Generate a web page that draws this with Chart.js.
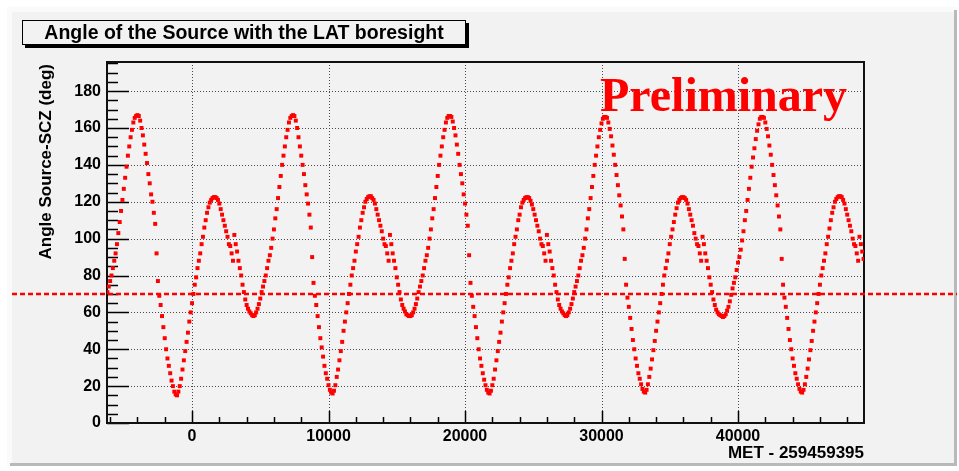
<!DOCTYPE html>
<html>
<head>
<meta charset="utf-8">
<title>Angle of the Source with the LAT boresight</title>
<script src="https://cdn.jsdelivr.net/npm/chart.js@4.4.1/dist/chart.umd.min.js"></script>
<style>
  html, body { margin: 0; padding: 0; background: #fff; overflow: hidden; }
  canvas { display: block; }
</style>
</head>
<body>
<canvas id="angleChart" width="959" height="471"></canvas>
<script>
// MET offsets: one sample every 100 s from metStart
const metStart = -6200;
const metStep = 100;

// Angle Source-SCZ (deg), split at each big peak of the rocking pattern
const orbitLead = [71, 74, 77, 80, 84, 88, 92, 97, 103, 109, 115, 121, 127, 133, 139, 145, 150, 155, 159, 163, 165.5, 166.5];

const orbitA = [
  167, 166.5, 164, 160, 156, 151, 146, 141, 135, 130,
  124, 120, 114, 108, 92, 77, 69, 64, 58, 52,
  46, 40, 35, 31, 27, 23, 20, 17, 15.5, 15,
  17, 20, 24, 29, 34, 39, 44, 49, 55, 60,
  65, 70, 75, 79, 84, 88, 92, 97, 101, 106,
  110, 114, 117, 119.5, 121, 122, 122.5, 122.5, 122, 121,
  119, 116, 113, 110, 107, 104, 101, 97, 96, 92,
  88, 102, 97, 93, 88, 84, 80, 75, 71, 67,
  64, 62, 60.5, 59.5, 58.5, 58, 58.5, 60, 62, 64.5,
  67.5, 71, 74, 77, 80, 84, 88, 91, 95, 100,
  105, 111, 116, 122, 128, 134, 140, 145, 150, 155,
  159, 163, 165.5, 166.5
];

const orbitB = [
  167, 166.5, 164, 160, 155, 150, 145, 140, 135, 129,
  124, 119, 113, 106, 90, 76, 69, 64, 58, 52,
  46, 41, 36, 31, 27, 24, 20.5, 18, 16.5, 16,
  17.5, 20.5, 25, 29, 34, 39, 44, 50, 55, 60,
  65, 70, 75, 80, 84, 88, 93, 97, 101, 106,
  110, 114, 117, 120, 121.5, 122.5, 123, 123, 122, 121,
  119, 116, 113, 110, 107, 104, 100, 97, 96, 92,
  88, 102, 97, 92, 88, 84, 79, 75, 71, 67,
  64, 62, 60.5, 59, 58.5, 58, 58, 58.5, 60, 62,
  64.5, 67.5, 71, 74, 77, 80, 84, 88, 91, 95,
  100, 105, 111, 116, 122, 128, 134, 140, 145, 150,
  155, 159, 163, 165.5, 166.5
];

const orbitC = [
  166.5, 166, 163.5, 160, 156, 151, 146, 140, 135, 130,
  124, 119, 113, 107, 91, 76, 69, 63, 58, 52,
  46, 40, 35, 31, 27, 23.5, 20.5, 18, 16.5, 16,
  17.5, 20.5, 24, 29, 34, 39, 44, 49, 55, 60,
  65, 70, 75, 79, 84, 88, 92, 97, 101, 105,
  110, 113, 117, 119.5, 121, 122, 122.5, 122.5, 122, 120.5,
  118.5, 116, 113, 110, 107, 104, 100, 97, 96, 92,
  88, 102, 97, 93, 88, 84, 80, 75, 71, 67,
  64, 62, 60.5, 59.5, 58.5, 58, 58.5, 60, 62, 64.5,
  67.5, 71, 74, 77, 80, 84, 88, 91, 95, 100,
  105, 111, 116, 122, 128, 134, 140, 145, 150, 155,
  159, 162.5, 165, 166
];

const orbitD = [
  166, 165.5, 163, 159.5, 155.5, 150.5, 145.5, 140, 134.5, 129,
  123.5, 118, 112, 105, 89, 75, 68, 63, 57, 51,
  45, 40, 35, 31, 27, 24, 21, 18.5, 17, 16.5,
  18, 21, 25, 29.5, 34.5, 39.5, 44.5, 50, 55, 60,
  65, 70, 75, 80, 84, 88, 92, 97, 101, 105,
  109, 113, 116.5, 119.5, 121, 122, 122.5, 122.5, 122, 121,
  119, 116, 113, 110, 107, 103, 100, 97, 96, 92,
  88, 101, 97, 92, 88, 84, 79, 75, 71, 67,
  64, 61.5, 60, 59, 58.5, 58, 57.5, 58, 59, 61,
  63, 66, 69.5, 73, 76, 79, 83, 87, 90, 94,
  99, 104, 110, 115, 121, 127, 133, 139, 144, 149,
  154, 158.5, 162, 165, 166
];

const orbitE = [
  166, 165.5, 163, 159.5, 155.5, 150.5, 145.5, 140, 134.5, 129,
  123.5, 118, 112, 105, 89, 75, 68, 63, 57, 51,
  45, 40, 35, 31, 27, 24, 21, 18.5, 17, 16.5,
  18, 21, 25, 29.5, 34.5, 39.5, 44.5, 50, 55, 60,
  65, 70, 75, 80, 84, 88, 92, 97, 101, 105.5,
  110, 114, 117, 120, 121.5, 122.5, 123, 123, 122.5, 121,
  119, 116, 113, 110, 107, 104, 100, 97, 96, 92,
  88, 101, 97, 93, 89
];

const xTicks = [0, 10000, 20000, 30000, 40000];
const yTicks = [0, 20, 40, 60, 80, 100, 120, 140, 160, 180];
const xMinorStep = 2000;
const yMinorStep = 5;
const cutAngle = 70;

const chartTitle = 'Angle of the Source with the LAT boresight';
const xTitle = 'MET - 259459395';
const yTitle = 'Angle Source-SCZ (deg)';
const stamp = 'Preliminary';

const angles = [].concat(orbitLead, orbitA, orbitB, orbitC, orbitD, orbitE);
const points = angles.map((a, i) => ({ x: metStart + i * metStep, y: a }));

const SANS = '"Liberation Sans", Arial, Helvetica, sans-serif';
const SERIF = '"Liberation Serif", "Times New Roman", serif';

function line(ctx, x1, y1, x2, y2) {
  ctx.beginPath();
  ctx.moveTo(x1, y1);
  ctx.lineTo(x2, y2);
  ctx.stroke();
}

// canvas panel, dotted grid, inner ticks and frame in ROOT style
const rootFrame = {
  id: 'rootFrame',
  beforeDraw(chart) {
    const ctx = chart.ctx;
    ctx.save();
    ctx.fillStyle = '#fff';
    ctx.fillRect(0, 0, chart.width, chart.height);
    ctx.fillStyle = '#f2f2f2';
    ctx.fillRect(7, 7, 950, 459);
    ctx.fillStyle = '#fafafa';
    ctx.fillRect(7, 7, 950, 5);
    ctx.fillRect(7, 7, 5, 459);
    ctx.fillStyle = '#b9b9b9';
    ctx.fillRect(954, 10, 3, 456);
    ctx.fillRect(10, 463, 947, 3);
    ctx.restore();
  },
  beforeDatasetsDraw(chart) {
    const ctx = chart.ctx;
    const { left, right, top, bottom } = chart.chartArea;
    const xs = chart.scales.x, ys = chart.scales.y;
    ctx.save();

    // dotted grid
    ctx.strokeStyle = '#4a4a4a';
    ctx.lineWidth = 1;
    ctx.setLineDash([1, 2]);
    xTicks.forEach(v => {
      const px = Math.round(xs.getPixelForValue(v)) + 0.5;
      line(ctx, px, top, px, bottom);
    });
    yTicks.forEach(v => {
      if (v === ys.min) return;
      const py = Math.round(ys.getPixelForValue(v)) + 0.5;
      line(ctx, left, py, right, py);
    });
    ctx.setLineDash([]);

    // ticks pointing into the frame
    ctx.strokeStyle = '#000';
    ctx.lineWidth = 1.5;
    for (let v = Math.ceil(xs.min / xMinorStep) * xMinorStep; v <= xs.max; v += xMinorStep) {
      const px = Math.round(xs.getPixelForValue(v)) + 0.5;
      const len = xTicks.includes(v) ? 12 : 6;
      line(ctx, px, bottom, px, bottom - len);
    }
    for (let v = Math.ceil(ys.min / yMinorStep) * yMinorStep; v <= ys.max; v += yMinorStep) {
      const py = Math.round(ys.getPixelForValue(v)) + 0.5;
      const len = yTicks.includes(v) ? 22 : 11;
      line(ctx, left, py, left + len, py);
    }

    // frame
    ctx.lineWidth = 2;
    ctx.strokeStyle = '#111';
    ctx.strokeRect(left, top, right - left, bottom - top);
    ctx.restore();
  },
  afterDatasetsDraw(chart) {
    const ctx = chart.ctx;
    const ys = chart.scales.y;
    ctx.save();
    // horizontal cut line, runs across the whole pad
    const py = ys.getPixelForValue(cutAngle);
    ctx.strokeStyle = '#ff0000';
    ctx.lineWidth = 2.5;
    ctx.setLineDash([5, 3]);
    line(ctx, 12, py, 957, py);
    ctx.setLineDash([]);

    ctx.fillStyle = '#ff0000';
    ctx.font = 'bold 48px ' + SERIF;
    ctx.textAlign = 'left';
    ctx.textBaseline = 'alphabetic';
    ctx.fillText(stamp, 600, 111);
    ctx.restore();
  },
  afterDraw(chart) {
    const ctx = chart.ctx;
    const { right } = chart.chartArea;
    ctx.save();

    // title box with drop shadow
    ctx.fillStyle = '#000';
    ctx.fillRect(25, 23, 444, 25);
    ctx.fillStyle = '#f2f2f2';
    ctx.fillRect(22, 20, 444, 25);
    ctx.strokeStyle = '#000';
    ctx.lineWidth = 1;
    ctx.strokeRect(22.5, 20.5, 443, 24);
    ctx.fillStyle = '#000';
    ctx.font = 'bold 19.5px ' + SANS;
    ctx.textAlign = 'center';
    ctx.textBaseline = 'alphabetic';
    ctx.fillText(chartTitle, 244, 39);

    // axis titles
    ctx.font = 'bold 17px ' + SANS;
    ctx.textAlign = 'right';
    ctx.fillText(xTitle, right, 458);

    ctx.translate(51, 64);
    ctx.rotate(-Math.PI / 2);
    ctx.textAlign = 'right';
    ctx.fillText(yTitle, 0, 0);
    ctx.restore();
  }
};

new Chart(document.getElementById('angleChart'), {
  type: 'scatter',
  data: {
    datasets: [{
      data: points,
      showLine: false,
      pointStyle: 'rect',
      pointRadius: 2.8,
      pointBorderWidth: 0,
      backgroundColor: '#ff0000',
      borderColor: '#ff0000'
    }]
  },
  options: {
    responsive: false,
    animation: false,
    devicePixelRatio: 1,
    layout: { padding: { left: 0, top: 62, right: 95, bottom: 0 } },
    plugins: {
      legend: { display: false },
      tooltip: { enabled: false }
    },
    scales: {
      x: {
        type: 'linear',
        min: -6230,
        max: 49230,
        afterBuildTicks: s => { s.ticks = xTicks.map(v => ({ value: v })); },
        afterFit: s => { s.height = 48; },
        grid: { display: false, drawTicks: false },
        border: { display: false },
        ticks: {
          color: '#000',
          padding: 4,
          maxRotation: 0,
          autoSkip: false,
          callback: v => String(v),
          font: { family: SANS, size: 16, weight: 'bold' }
        }
      },
      y: {
        type: 'linear',
        min: 0,
        max: 195.8,
        afterBuildTicks: s => { s.ticks = yTicks.map(v => ({ value: v })); },
        afterFit: s => { s.width = 107; },
        grid: { display: false, drawTicks: false },
        border: { display: false },
        ticks: {
          color: '#000',
          padding: 6,
          autoSkip: false,
          callback: v => String(v),
          font: { family: SANS, size: 16, weight: 'bold' }
        }
      }
    }
  },
  plugins: [rootFrame]
});
</script>
</body>
</html>
